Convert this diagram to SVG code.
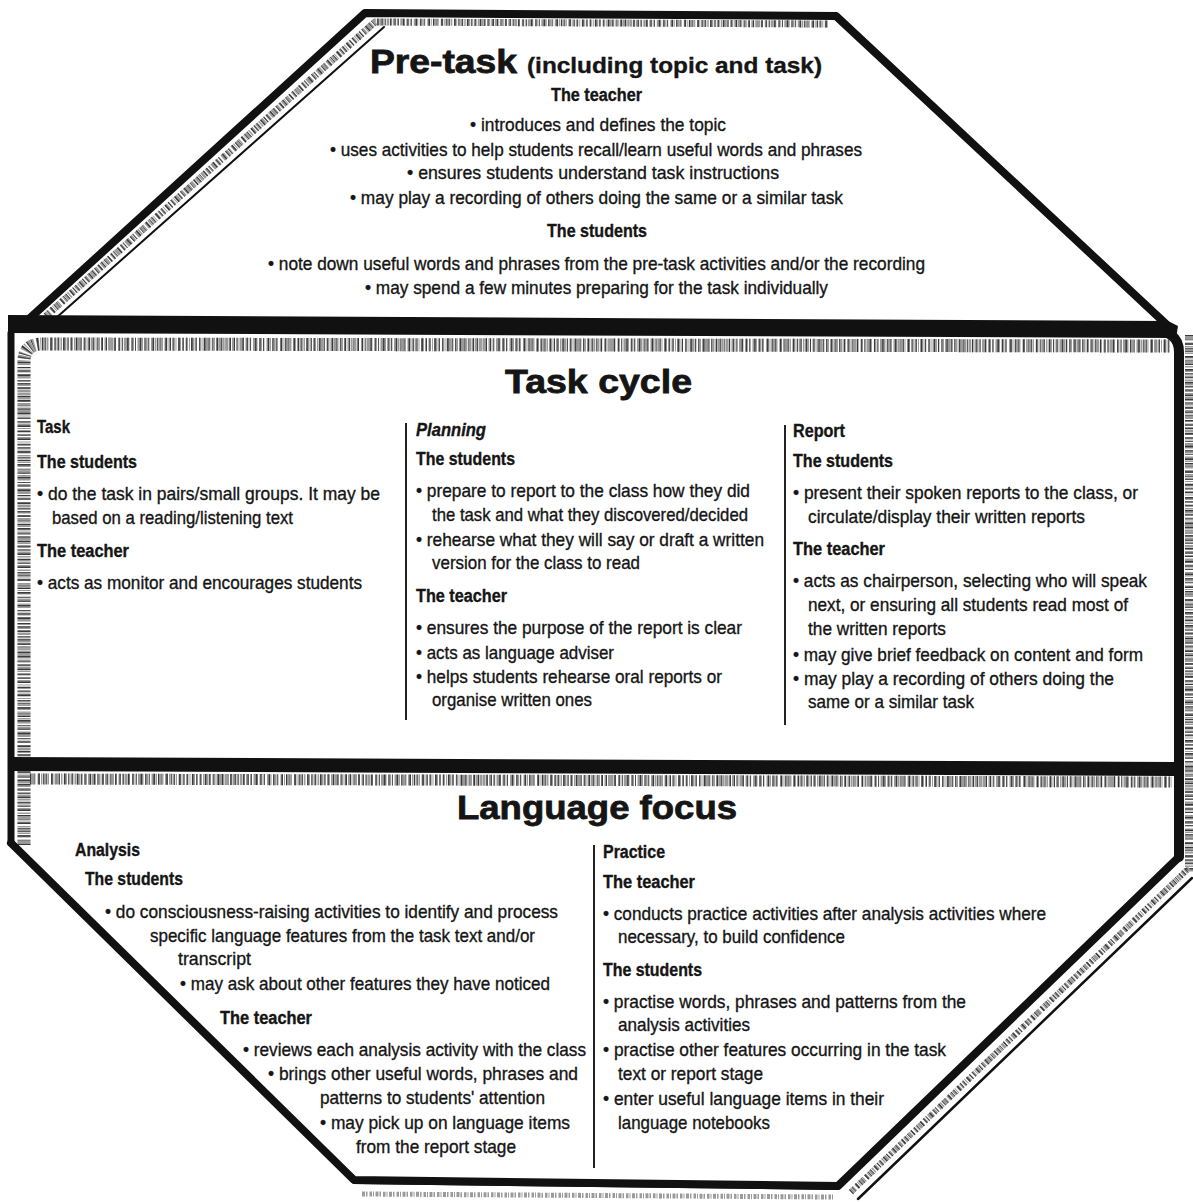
<svg xmlns="http://www.w3.org/2000/svg" width="1193" height="1202" viewBox="0 0 1193 1202">
<style>
.frame{fill:none;stroke:#111;stroke-linejoin:round;stroke-linecap:round}
.hatch{fill:none;stroke:#9a9a9a;stroke-dasharray:3 1 1.5 2 2.5 1 1 1.5}
.hatch2{fill:none;stroke:#3a3a3a;stroke-dasharray:1 2.5 0.8 4 1.5 3}
.div{stroke:#222;stroke-width:2}
text{font-family:"Liberation Sans Narrow","Liberation Sans",Arial,sans-serif;fill:#151515;stroke:#151515;stroke-width:0.35}
.b{font-size:19px;}
.h{font-size:17.5px;font-weight:bold}
.t{font-size:34px;font-weight:bold;stroke-width:0.8}
</style>
<rect width="1193" height="1202" fill="#fff"/>

<g id="frame">
  <!-- pre-task outline -->
  <path class="frame" stroke-width="8" d="M30,318 L365,13 L836,16 L1166,324"/>
  <path class="hatch" stroke-width="7" d="M46,316 L375,22 L828,24"/>
  <path class="hatch2" stroke-width="7" d="M46,316 L375,22 L828,24"/>
  <path class="frame" stroke-width="2" d="M56,318 L384,27"/>
  <polygon points="8,315 1168,321 1178,326 1176,338 8,333" fill="#111"/>
  <!-- task cycle box -->
  <path class="hatch" stroke-width="13" d="M24,845 L24,362 Q24,344 42,344 L1170,346"/>
  <path class="hatch2" stroke-width="13" d="M24,845 L24,362 Q24,344 42,344 L1170,346"/>
  <path class="frame" stroke-width="7" d="M11,333 L11,843"/>
  <path class="hatch" stroke-width="8" d="M1189,335 L1189,872"/>
  <path class="hatch2" stroke-width="8" d="M1189,335 L1189,872"/>
  <path class="frame" stroke-width="10" d="M1150,330 Q1179,330 1179,352 L1179,857"/>
  <!-- bar between task cycle and language focus -->
  <path class="hatch" stroke-width="11" d="M30,779 L1172,782"/>
  <path class="hatch2" stroke-width="11" d="M30,779 L1172,782"/>
  <polygon points="8,757 1176,762 1176,776 8,771" fill="#111"/>
  <!-- language focus outline -->
  <path class="frame" stroke-width="8" d="M11,843 L354,1180 L838,1186 L1179,857"/>
  <path class="frame" stroke-width="4" d="M354,1182 L838,1188"/>
  <path class="hatch" stroke-width="5" d="M362,1194 L834,1197"/>
  <path class="hatch" stroke-width="6" d="M851,1192 L1189,868"/>
  <path class="hatch2" stroke-width="6" d="M851,1192 L1189,868"/>
  <path class="frame" stroke-width="2.5" d="M858,1199 L1192,878"/>
</g>

<g id="connectors"></g>

<g id="pre-task">
  <text x="370" y="73" class="t" font-size="31" textLength="147" lengthAdjust="spacingAndGlyphs">Pre-task</text>
  <text x="527" y="73" font-size="22" font-weight="bold" stroke-width="0.5" textLength="295" lengthAdjust="spacingAndGlyphs">(including topic and task)</text>
  <text x="551" y="101" class="h" textLength="91" lengthAdjust="spacingAndGlyphs">The teacher</text>
  <text x="470" y="131" class="b" textLength="256" lengthAdjust="spacingAndGlyphs">• introduces and defines the topic</text>
  <text x="330" y="156" class="b" textLength="532" lengthAdjust="spacingAndGlyphs">• uses activities to help students recall/learn useful words and phrases</text>
  <text x="407" y="179" class="b" textLength="372" lengthAdjust="spacingAndGlyphs">• ensures students understand task instructions</text>
  <text x="350" y="204" class="b" textLength="493" lengthAdjust="spacingAndGlyphs">• may play a recording of others doing the same or a similar task</text>
  <text x="547" y="237" class="h" textLength="100" lengthAdjust="spacingAndGlyphs">The students</text>
  <text x="268" y="270" class="b" textLength="657" lengthAdjust="spacingAndGlyphs">• note down useful words and phrases from the pre-task activities and/or the recording</text>
  <text x="365" y="294" class="b" textLength="463" lengthAdjust="spacingAndGlyphs">• may spend a few minutes preparing for the task individually</text>
</g>

<g id="task-cycle">
  <text x="505" y="393" class="t" textLength="187" lengthAdjust="spacingAndGlyphs">Task cycle</text>
  <line class="div" x1="406" y1="423" x2="406" y2="720"/>
  <line class="div" x1="785" y1="425" x2="785" y2="725"/>
  <g id="task">
    <text x="37" y="433" class="h" textLength="33" lengthAdjust="spacingAndGlyphs">Task</text>
    <text x="37" y="468" class="h" textLength="100" lengthAdjust="spacingAndGlyphs">The students</text>
    <text x="37" y="500" class="b" textLength="343" lengthAdjust="spacingAndGlyphs">• do the task in pairs/small groups. It may be</text>
    <text x="52" y="524" class="b" textLength="241" lengthAdjust="spacingAndGlyphs">based on a reading/listening text</text>
    <text x="37" y="557" class="h" textLength="92" lengthAdjust="spacingAndGlyphs">The teacher</text>
    <text x="37" y="589" class="b" textLength="325" lengthAdjust="spacingAndGlyphs">• acts as monitor and encourages students</text>
  </g>
  <g id="planning">
    <text x="416" y="436" class="h" font-style="italic" textLength="70" lengthAdjust="spacingAndGlyphs">Planning</text>
    <text x="416" y="465" class="h" textLength="99" lengthAdjust="spacingAndGlyphs">The students</text>
    <text x="416" y="497" class="b" textLength="334" lengthAdjust="spacingAndGlyphs">• prepare to report to the class how they did</text>
    <text x="432" y="521" class="b" textLength="316" lengthAdjust="spacingAndGlyphs">the task and what they discovered/decided</text>
    <text x="416" y="546" class="b" textLength="348" lengthAdjust="spacingAndGlyphs">• rehearse what they will say or draft a written</text>
    <text x="432" y="569" class="b" textLength="208" lengthAdjust="spacingAndGlyphs">version for the class to read</text>
    <text x="416" y="602" class="h" textLength="91" lengthAdjust="spacingAndGlyphs">The teacher</text>
    <text x="416" y="634" class="b" textLength="326" lengthAdjust="spacingAndGlyphs">• ensures the purpose of the report is clear</text>
    <text x="416" y="659" class="b" textLength="198" lengthAdjust="spacingAndGlyphs">• acts as language adviser</text>
    <text x="416" y="683" class="b" textLength="306" lengthAdjust="spacingAndGlyphs">• helps students rehearse oral reports or</text>
    <text x="432" y="706" class="b" textLength="160" lengthAdjust="spacingAndGlyphs">organise written ones</text>
  </g>
  <g id="report">
    <text x="793" y="437" class="h" textLength="52" lengthAdjust="spacingAndGlyphs">Report</text>
    <text x="793" y="467" class="h" textLength="100" lengthAdjust="spacingAndGlyphs">The students</text>
    <text x="793" y="499" class="b" textLength="345" lengthAdjust="spacingAndGlyphs">• present their spoken reports to the class, or</text>
    <text x="808" y="523" class="b" textLength="277" lengthAdjust="spacingAndGlyphs">circulate/display their written reports</text>
    <text x="793" y="555" class="h" textLength="92" lengthAdjust="spacingAndGlyphs">The teacher</text>
    <text x="793" y="587" class="b" textLength="354" lengthAdjust="spacingAndGlyphs">• acts as chairperson, selecting who will speak</text>
    <text x="808" y="611" class="b" textLength="320" lengthAdjust="spacingAndGlyphs">next, or ensuring all students read most of</text>
    <text x="808" y="635" class="b" textLength="138" lengthAdjust="spacingAndGlyphs">the written reports</text>
    <text x="793" y="661" class="b" textLength="350" lengthAdjust="spacingAndGlyphs">• may give brief feedback on content and form</text>
    <text x="793" y="685" class="b" textLength="321" lengthAdjust="spacingAndGlyphs">• may play a recording of others doing the</text>
    <text x="808" y="708" class="b" textLength="166" lengthAdjust="spacingAndGlyphs">same or a similar task</text>
  </g>
</g>

<g id="language-focus">
  <text x="457" y="819" class="t" textLength="280" lengthAdjust="spacingAndGlyphs">Language focus</text>
  <line class="div" x1="594" y1="845" x2="594" y2="1168"/>
  <g id="analysis">
    <text x="75" y="856" class="h" textLength="65" lengthAdjust="spacingAndGlyphs">Analysis</text>
    <text x="85" y="885" class="h" textLength="98" lengthAdjust="spacingAndGlyphs">The students</text>
    <text x="105" y="918" class="b" textLength="453" lengthAdjust="spacingAndGlyphs">• do consciousness-raising activities to identify and process</text>
    <text x="150" y="942" class="b" textLength="385" lengthAdjust="spacingAndGlyphs">specific language features from the task text and/or</text>
    <text x="178" y="965" class="b" textLength="73" lengthAdjust="spacingAndGlyphs">transcript</text>
    <text x="180" y="990" class="b" textLength="370" lengthAdjust="spacingAndGlyphs">• may ask about other features they have noticed</text>
    <text x="220" y="1024" class="h" textLength="92" lengthAdjust="spacingAndGlyphs">The teacher</text>
    <text x="243" y="1056" class="b" textLength="343" lengthAdjust="spacingAndGlyphs">• reviews each analysis activity with the class</text>
    <text x="268" y="1080" class="b" textLength="310" lengthAdjust="spacingAndGlyphs">• brings other useful words, phrases and</text>
    <text x="320" y="1104" class="b" textLength="225" lengthAdjust="spacingAndGlyphs">patterns to students' attention</text>
    <text x="320" y="1129" class="b" textLength="250" lengthAdjust="spacingAndGlyphs">• may pick up on language items</text>
    <text x="356" y="1153" class="b" textLength="160" lengthAdjust="spacingAndGlyphs">from the report stage</text>
  </g>
  <g id="practice">
    <text x="603" y="858" class="h" textLength="62" lengthAdjust="spacingAndGlyphs">Practice</text>
    <text x="603" y="888" class="h" textLength="92" lengthAdjust="spacingAndGlyphs">The teacher</text>
    <text x="603" y="920" class="b" textLength="443" lengthAdjust="spacingAndGlyphs">• conducts practice activities after analysis activities where</text>
    <text x="618" y="943" class="b" textLength="227" lengthAdjust="spacingAndGlyphs">necessary, to build confidence</text>
    <text x="603" y="976" class="h" textLength="99" lengthAdjust="spacingAndGlyphs">The students</text>
    <text x="603" y="1008" class="b" textLength="363" lengthAdjust="spacingAndGlyphs">• practise words, phrases and patterns from the</text>
    <text x="618" y="1031" class="b" textLength="132" lengthAdjust="spacingAndGlyphs">analysis activities</text>
    <text x="603" y="1056" class="b" textLength="343" lengthAdjust="spacingAndGlyphs">• practise other features occurring in the task</text>
    <text x="618" y="1080" class="b" textLength="145" lengthAdjust="spacingAndGlyphs">text or report stage</text>
    <text x="603" y="1105" class="b" textLength="281" lengthAdjust="spacingAndGlyphs">• enter useful language items in their</text>
    <text x="618" y="1129" class="b" textLength="152" lengthAdjust="spacingAndGlyphs">language notebooks</text>
  </g>
</g>
</svg>
